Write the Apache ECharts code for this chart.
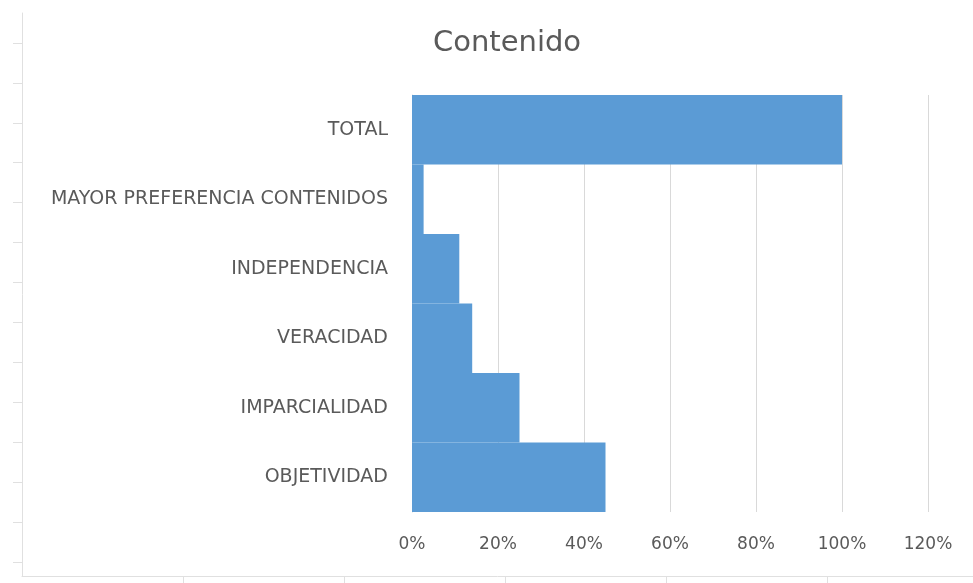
<!DOCTYPE html>
<html>
<head>
<meta charset="utf-8">
<script src="https://cdn.jsdelivr.net/npm/echarts@6/dist/echarts.min.js"></script>
<style>html,body{margin:0;padding:0;background:#fff;}#c{width:973px;height:583px;}</style>
</head>
<body>
<div id="c"></div>
<script>
var categories = ['OBJETIVIDAD', 'IMPARCIALIDAD', 'VERACIDAD', 'INDEPENDENCIA', 'MAYOR PREFERENCIA CONTENIDOS', 'TOTAL'];
var values = [0.45, 0.25, 0.14, 0.11, 0.027, 1.00];
var xTicks = [0, 0.2, 0.4, 0.6, 0.8, 1.0, 1.2];
var titleText = 'Contenido';
// faint sheet artifacts (axis of a neighbouring chart)
var artYTicks = [0,1,2,3,4,5,6,7,8,9,10,11,12,13];
var artXTicks = [1,2,3,4,5];

var chart = echarts.init(document.getElementById('c'));
var font = 'DejaVu Sans';
chart.setOption({
  animation: false,
  backgroundColor: '#ffffff',
  title: {
    text: titleText,
    left: 502, top: 24, textAlign: 'center',
    textStyle: {color: '#5a5a5a', fontSize: 29, fontWeight: 'normal', fontFamily: font}
  },
  grid: [
    {left: 412, right: 45, top: 95, bottom: 71},
    {left: 22, right: 0, top: 13, bottom: 7}
  ],
  xAxis: [
    {
      type: 'value', gridIndex: 0, position: 'bottom', min: 0, max: 1.2, interval: 0.2,
      axisLine: {show: false}, axisTick: {show: false},
      splitLine: {show: true, lineStyle: {color: '#d9d9d9', width: 1}},
      axisLabel: {
        color: '#5a5a5a', fontSize: 17, fontFamily: font, margin: 24,
        formatter: function (v) { return Math.round(v * 100) + '%'; },
        customValues: xTicks
      }
    },
    {
      type: 'value', gridIndex: 1, position: 'bottom', min: 0, max: 5.907,
      axisLine: {show: true, onZero: false, lineStyle: {color: '#e0e0e0'}},
      axisTick: {show: true, length: 7, lineStyle: {color: '#e0e0e0'}, customValues: artXTicks},
      axisLabel: {show: false}, splitLine: {show: false}
    }
  ],
  yAxis: [
    {
      type: 'category', gridIndex: 0, position: 'left', data: categories,
      axisLine: {show: true, lineStyle: {color: '#d9d9d9'}},
      axisTick: {show: false},
      splitLine: {show: false},
      axisLabel: {color: '#5a5a5a', fontSize: 19, fontFamily: font, margin: 24}
    },
    {
      type: 'value', gridIndex: 1, position: 'left', inverse: true, min: -0.75, max: 13.35,
      axisLine: {show: true, onZero: false, lineStyle: {color: '#e0e0e0'}},
      axisTick: {show: true, length: 9, lineStyle: {color: '#e0e0e0'}, customValues: artYTicks},
      axisLabel: {show: false}, splitLine: {show: false}
    }
  ],
  series: [{
    type: 'bar', xAxisIndex: 0, yAxisIndex: 0,
    data: values,
    barCategoryGap: '0%',
    itemStyle: {color: '#5b9bd5'}
  }]
});
</script>
</body>
</html>
